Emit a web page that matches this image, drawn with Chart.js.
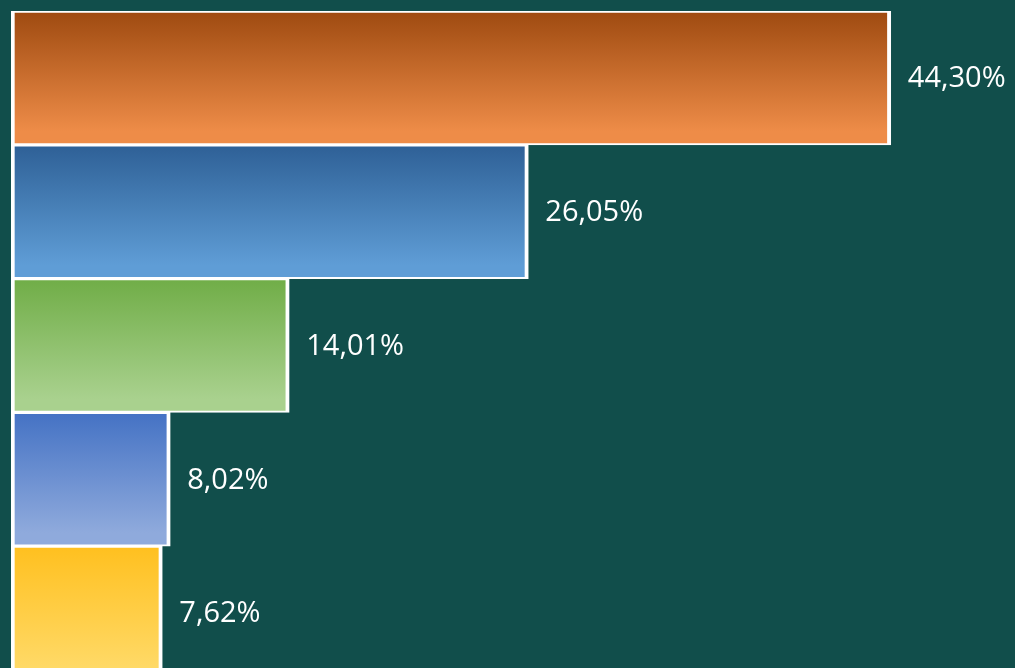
<!DOCTYPE html>
<html>
<head>
<meta charset="utf-8">
<script src="https://cdn.jsdelivr.net/npm/chart.js@4"></script>
<style>
    html, body { margin: 0; padding: 0; background: #114E4B; overflow: hidden; }
    #wrap { position: relative; width: 1015px; height: 680px; }
</style>
</head>
<body>
<div id="wrap"><canvas id="myChart"></canvas></div>
<script>
// data
var categories = ['A', 'B', 'C', 'D', 'E'];
var shares = [44.30, 26.05, 14.01, 8.02, 7.62];
var topColors = ['#9E4A10', '#2E6096', '#70AD47', '#4472C4', '#FFC01F'];
var bottomColors = ['#EE8C48', '#5F9DD6', '#A9D18E', '#8FAADC', '#FFD966'];

function barGradient(context) {
    var chart = context.chart;
    var area = chart.chartArea;
    var i = context.dataIndex;
    if (!area || i === undefined) {
        return bottomColors[i || 0];
    }
    var yScale = chart.scales.y;
    var center = yScale.getPixelForValue(i);
    var half = (area.bottom - area.top) / categories.length / 2;
    var g = chart.ctx.createLinearGradient(0, center - half, 0, center + half);
    g.addColorStop(0, topColors[i]);
    g.addColorStop(0.9, bottomColors[i]);
    g.addColorStop(1, bottomColors[i]);
    return g;
}

// value labels to the right of bars
var valueLabels = {
    id: 'valueLabels',
    afterDatasetsDraw: function (chart) {
        var ctx = chart.ctx;
        var meta = chart.getDatasetMeta(0);
        ctx.save();
        ctx.fillStyle = '#FFFFFF';
        ctx.font = '29px "Open Sans"';
        ctx.textBaseline = 'middle';
        ctx.textAlign = 'left';
        meta.data.forEach(function (bar, i) {
            var text = shares[i].toFixed(2).replace('.', ',') + '%';
            ctx.fillText(text, bar.x + 17, bar.y + 1);
        });
        ctx.restore();
    }
};

var ctx = document.getElementById('myChart').getContext('2d');
var myChart = new Chart(ctx, {
    type: 'bar',
    data: {
        labels: categories,
        datasets: [{
            data: shares,
            backgroundColor: barGradient,
            borderColor: '#FFFFFF',
            borderWidth: { top: 2, bottom: 2, left: 4, right: 4 },
            borderSkipped: false,
            categoryPercentage: 1.0,
            barPercentage: 1.0
        }]
    },
    options: {
        indexAxis: 'y',
        responsive: true,
        maintainAspectRatio: false,
        animation: false,
        layout: {
            padding: { top: 11, left: 11, right: 11, bottom: 0 }
        },
        scales: {
            x: {
                display: false,
                min: 0,
                max: 50
            },
            y: {
                display: false
            }
        },
        plugins: {
            legend: { display: false },
            tooltip: { enabled: false }
        }
    },
    plugins: [valueLabels]
});
</script>
</body>
</html>
